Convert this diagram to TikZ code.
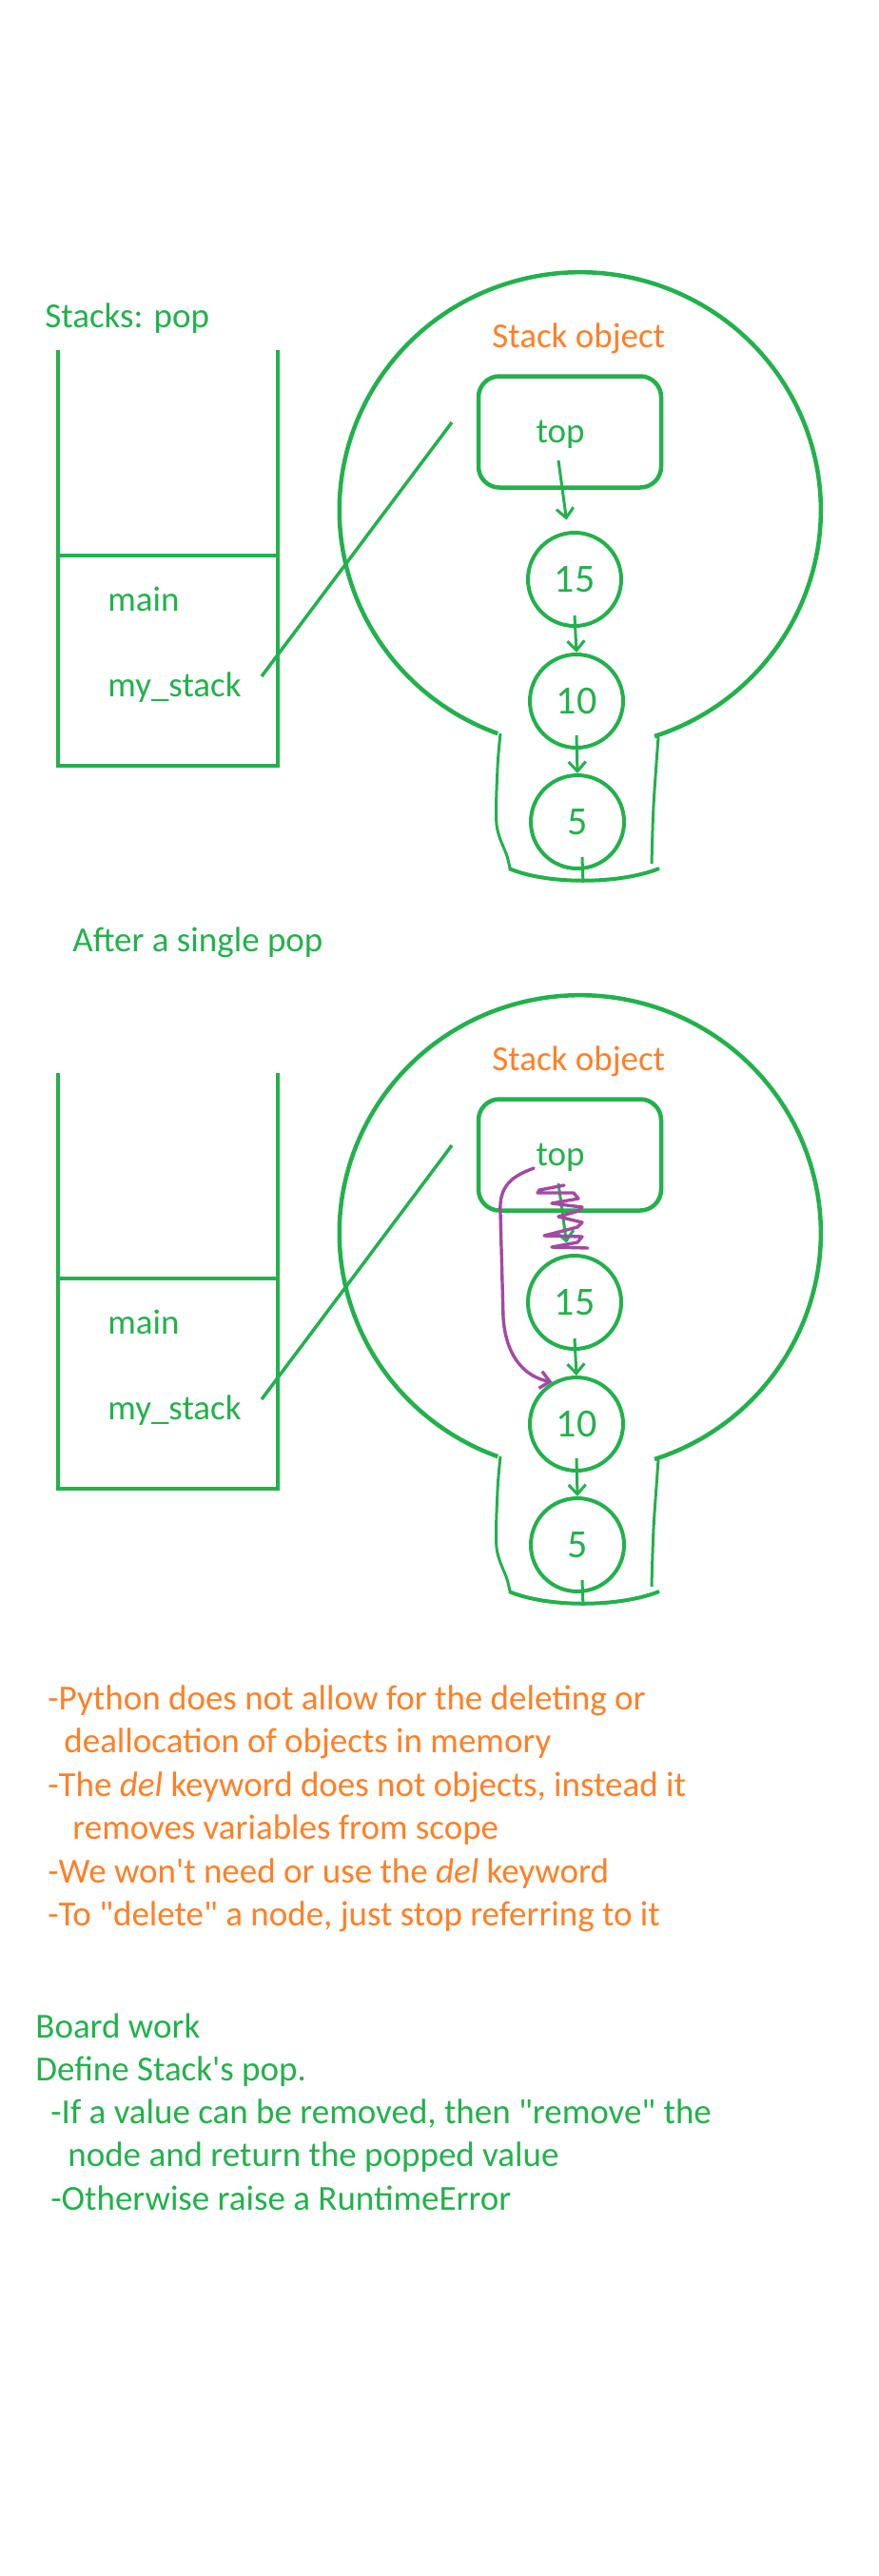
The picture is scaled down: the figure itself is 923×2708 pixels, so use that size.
\documentclass[tikz,border=0pt]{standalone}
\usepackage{fontspec}
\setmainfont{Carlito}[Ligatures=TeXOff]
\usetikzlibrary{arrows.meta}
\definecolor{paintgreen}{HTML}{22B14C}
\definecolor{paintorange}{HTML}{FF7F27}
\definecolor{paintpurple}{HTML}{A349A4}
\tikzset{
  txt/.style={anchor=base west, inner sep=0pt, font=\fontsize{18.5pt}{22.75pt}\selectfont},
  stackframe/.style={paintgreen, line width=2.25pt},
  pen/.style={paintgreen, line width=1.5pt},
  nodecirc/.style={circle, draw=paintgreen, line width=2pt, minimum size=49pt, inner sep=0pt,
    text=paintgreen, font=\fontsize{21pt}{24pt}\selectfont},
  link/.style={paintgreen, line width=1.5pt, -{Straight Barb[length=5pt,width=9pt]}},
  scribble/.style={paintpurple, line width=1.7pt, line join=round, line cap=round},
}
\begin{document}
\begin{tikzpicture}[x=0.5pt, y=0.5pt]
\useasboundingbox (0,0) rectangle (923,-2708);
\node [txt, paintgreen] (title-a) at (47,-344) {Stacks: pop};
\node [txt, paintgreen] (title-b) at (76,-1000) {After a single pop};
% the same drawing twice, before and after the pop
\foreach \s/\dy in {a/0, b/760} {
\begin{scope}[shift={(0,-\dy)}]
\draw [stackframe] (61,-368) -- (61,-805) -- (292,-805) -- (292,-368);
\draw [stackframe] (61,-584) -- (292,-584);
\node [txt, paintgreen] (main-\s) at (113,-642) {main};
\node [txt, paintgreen] (var-\s) at (113,-732) {my\_stack};
% outline of the stack object
\draw [stackframe] (688,-774) arc [start angle=-72, end angle=250, x radius=253, y radius=250];
\draw [pen] plot [smooth] coordinates {(526,-771) (523,-807) (522,-867) (533,-900) (536,-913)};
\draw [pen] plot [smooth] coordinates {(692,-775) (687,-847) (685,-908)};
\draw [pen, line width=2pt] (535,-913) .. controls (575,-930) and (650,-930) .. (693,-913)
  coordinate [pos=0.5] (base-\s);
\node [txt, paintorange] (label-\s) at (517,-365) {Stack object};
\node [draw=paintgreen, line width=2.25pt, rounded corners=11pt, minimum width=96pt,
  minimum height=58.5pt] (box-\s) at (599,-454) {};
\node [txt, anchor=base, paintgreen] (top-\s) at (589,-465) {top};
\coordinate (ptr-\s) at (587,-484);
\node [nodecirc] (n15-\s) at (604,-609) {15};
\node [nodecirc] (n10-\s) at (606,-737) {10};
\node [nodecirc] (n5-\s) at (607,-864) {5};
\draw [link, shorten >=6pt] (ptr-\s) -- (n15-\s);
\draw [link] ([yshift=6.5pt]n15-\s.south) -- (n10-\s.north);
\draw [link] ([yshift=7.5pt]n10-\s.south) -- (n5-\s.north);
\draw [pen] ([xshift=2.5pt,yshift=7pt]n5-\s.south) -- (base-\s);
% reference from my_stack
\coordinate (ref-\s) at (275,-711);
\coordinate (refend-\s) at (475,-444);
\draw [pen, line width=1.75pt] (ref-\s) -- (refend-\s);
\end{scope}
}
% crossed out link and the new top
\draw [scribble] (593,-1246) -- (567,-1251) -- (565,-1254) -- (603,-1254) -- (608,-1260)
  -- (580,-1265) -- (612,-1269) -- (608,-1273) -- (587,-1279) -- (612,-1285) -- (607,-1290)
  -- (572,-1299) -- (612,-1300) -- (607,-1306) -- (580,-1311) -- (618,-1312);
\draw [scribble, -{Straight Barb[length=5pt,width=9pt]}] ([shift={(-1pt,-1.5pt)}]top-b.base west)
  .. controls (540,-1236) and (524,-1245) .. (526,-1275) -- (529,-1385)
  .. controls (532,-1430) and (555,-1448) .. (n10-b.120);
% notes
\node [txt, paintorange] (note1) at (50,-1797) {-Python does not allow for the deleting or};
\node [txt, paintorange] (note2) at (67,-1842) {deallocation of objects in memory};
\node [txt, paintorange] (note3) at (50,-1888) {-The \textit{del} keyword does not objects, instead it};
\node [txt, paintorange] (note4) at (76,-1933) {removes variables from scope};
\node [txt, paintorange] (note5) at (50,-1979) {-We won't need or use the \textit{del} keyword};
\node [txt, paintorange] (note6) at (50,-2024) {-To "delete" a node, just stop referring to it};
\node [txt, paintgreen] (work1) at (37,-2142) {Board work};
\node [txt, paintgreen] (work2) at (37,-2187) {Define Stack's pop.};
\node [txt, paintgreen] (work3) at (53,-2232) {-If a value can be removed, then "remove" the};
\node [txt, paintgreen] (work4) at (71,-2277) {node and return the popped value};
\node [txt, paintgreen] (work5) at (53,-2323) {-Otherwise raise a RuntimeError};
\end{tikzpicture}
\end{document}
